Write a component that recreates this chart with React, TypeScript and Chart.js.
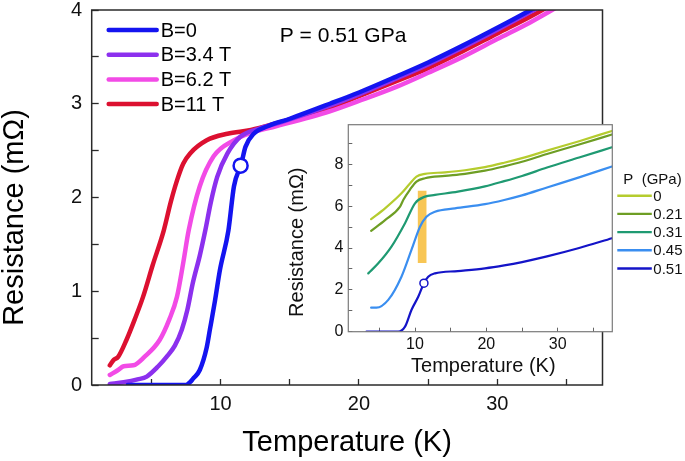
import React, { useEffect, useRef } from 'react';
import { Chart, registerables } from 'chart.js';

Chart.register(...registerables);

const FONT = '"Liberation Sans", Arial, Helvetica, sans-serif';

// ---------------- Main chart data (P = 0.51 GPa) ----------------
const mainLabels = ['B=0', 'B=3.4 T', 'B=6.2 T', 'B=11 T'];
const mainColors = ['#1414F0', '#8C30EE', '#F24BE6', '#DC1030'];

const tB0 = [3.3, 5, 7.5, 7.8, 8.03, 8.5, 9.0, 9.23, 9.6, 9.96, 10.57, 10.97, 11.5, 11.8, 12.4, 13.4, 15, 17.9, 20, 22.7, 25, 27.5, 30, 32.4, 35, 37];
const rB0 = [0, 0, 0, 0.03, 0.07, 0.16, 0.4, 0.59, 0.9, 1.23, 1.65, 2.12, 2.36, 2.54, 2.68, 2.76, 2.84, 3.0, 3.12, 3.29, 3.44, 3.62, 3.81, 4.0, 4.22, 4.4];

const tB34 = [2.0, 3.0, 4.0, 4.67, 5.5, 6.1, 6.7, 7.2, 7.6, 8.0, 8.5, 8.9, 9.3, 9.76, 10.5, 11.45, 12.9, 14.5, 17.9, 20, 22.7, 25, 27.5, 30, 32.4, 35, 37];
const rB34 = [0.01, 0.03, 0.06, 0.09, 0.2, 0.3, 0.42, 0.59, 0.8, 1.09, 1.38, 1.65, 1.95, 2.22, 2.47, 2.65, 2.74, 2.81, 2.98, 3.1, 3.27, 3.42, 3.6, 3.79, 3.98, 4.2, 4.38];

const tB62 = [2.0, 2.6, 3.0, 3.7, 4.5, 5.6, 6.3, 6.85, 7.3, 7.7, 8.5, 9.5, 10.95, 12.4, 14, 17.9, 20, 22.7, 25, 27.5, 30, 32.4, 35, 37];
const rB62 = [0.107, 0.16, 0.2, 0.21, 0.3, 0.48, 0.7, 0.94, 1.3, 1.65, 2.12, 2.44, 2.61, 2.7, 2.76, 2.92, 3.03, 3.18, 3.33, 3.5, 3.69, 3.87, 4.09, 4.27];

const tB11 = [2.0, 2.3, 2.6, 3.2, 3.8, 4.4, 5.1, 5.9, 6.4, 6.85, 7.3, 7.8, 9.0, 10.5, 12.2, 14, 17.9, 20, 22.7, 25, 27.5, 30, 32.4, 35, 37];
const rB11 = [0.21, 0.27, 0.3, 0.48, 0.7, 0.94, 1.28, 1.65, 1.95, 2.18, 2.36, 2.47, 2.61, 2.68, 2.72, 2.79, 2.96, 3.08, 3.24, 3.38, 3.56, 3.75, 3.93, 4.15, 4.33];

const mainMarkerT = [11.45];
const mainMarkerR = [2.34];

const mainXLabelled = [10, 20, 30];
const mainYLabelled = [0, 1, 2, 3, 4];
const mainTitle = 'P = 0.51 GPa';

// ---------------- Inset data (B = 0, various P) ----------------
const insetLabels = ['0', '0.21', '0.31', '0.45', '0.51'];
const insetColors = ['#B5CC2E', '#6E9E24', '#1F9A72', '#3A8EF0', '#1414C8'];

const tP0 = [3.85, 5.8, 8.1, 9.2, 10.2, 11.4, 14.2, 17, 19.8, 22.5, 25, 28.5, 33, 37.6];
const rP0 = [5.38, 5.9, 6.62, 7.05, 7.42, 7.55, 7.62, 7.72, 7.87, 8.08, 8.3, 8.66, 9.11, 9.6];

const tP021 = [3.85, 5.8, 7.9, 8.35, 9.3, 10.2, 11.4, 14.2, 17, 19.8, 22.5, 25, 28.5, 33, 37.6];
const rP021 = [4.82, 5.34, 5.98, 6.3, 6.8, 7.18, 7.34, 7.45, 7.55, 7.7, 7.91, 8.13, 8.5, 8.95, 9.43];

const tP031 = [3.45, 4.85, 6.7, 8.6, 10.0, 11.4, 12.8, 16, 19.8, 22.5, 25, 28.5, 33, 37.6];
const rP031 = [2.79, 3.27, 4.07, 5.19, 6.14, 6.46, 6.54, 6.7, 6.95, 7.2, 7.45, 7.85, 8.33, 8.82];

const tP045 = [3.85, 4.6, 6.25, 8.1, 9.5, 10.7, 11.6, 12.8, 15.6, 19.8, 22.5, 25, 28.5, 33, 37.6];
const rP045 = [1.15, 1.15, 1.52, 2.63, 3.91, 5.02, 5.5, 5.74, 5.9, 6.1, 6.3, 6.52, 6.9, 7.38, 7.9];

const tP051 = [3.2, 7.65, 8.6, 9.5, 10.45, 11.25, 11.85, 12.8, 16, 19.8, 22.5, 25, 28.5, 33, 37.6];
const rP051 = [0, 0, 0.24, 1.04, 1.67, 2.32, 2.63, 2.79, 2.9, 3.03, 3.17, 3.33, 3.6, 4.0, 4.47];

const insetMarkerT = [11.25];
const insetMarkerR = [2.32];

const bandT = [11.0];
const bandR = [[3.3, 6.73]];

const insetXLabelled = [10, 20, 30];
const insetYLabelled = [0, 2, 4, 6, 8];
const insetLegendTitle = 'P  (GPa)';

// ---------------- helpers ----------------
const pts = (t: number[], r: number[]) => t.map((x, i) => ({ x, y: r[i] }));

function lineDs(label: string, t: number[], r: number[], color: string, width: number) {
  return {
    type: 'line' as const,
    label,
    data: pts(t, r),
    borderColor: color,
    backgroundColor: color,
    borderWidth: width,
    pointRadius: 0,
    pointHoverRadius: 0,
    cubicInterpolationMode: 'monotone' as const,
    borderCapStyle: 'round' as const,
    borderJoinStyle: 'round' as const,
    fill: false,
    order: 1,
  };
}

function markerDs(t: number[], r: number[], color: string, radius: number, bw: number) {
  return {
    type: 'line' as const,
    label: '__marker',
    data: pts(t, r),
    showLine: false,
    pointRadius: radius,
    pointBackgroundColor: '#ffffff',
    pointBorderColor: color,
    pointBorderWidth: bw,
    borderColor: color,
    order: -1,
  };
}

const fixX = (h: number) => (s: any) => {
  s.height = h;
  s.paddingLeft = 0;
  s.paddingRight = 0;
  s.paddingTop = 0;
  s.paddingBottom = 0;
};
const fixY = (w: number) => (s: any) => {
  s.width = w;
  s.paddingLeft = 0;
  s.paddingRight = 0;
  s.paddingTop = 0;
  s.paddingBottom = 0;
};

function mainConfig(): any {
  const series = [
    [tB0, rB0],
    [tB34, rB34],
    [tB62, rB62],
    [tB11, rB11],
  ];
  const datasets: any[] = series.map((s, i) => lineDs(mainLabels[i], s[0], s[1], mainColors[i], 4.5));
  datasets.push(markerDs(mainMarkerT, mainMarkerR, mainColors[0], 7, 2.5));

  const decor = {
    id: 'mainDecor',
    beforeDraw(chart: any) {
      const ctx = chart.ctx;
      ctx.save();
      ctx.fillStyle = '#ffffff';
      ctx.fillRect(0, 0, chart.width, chart.height);
      ctx.restore();
    },
    afterDraw(chart: any) {
      const ctx = chart.ctx;
      const a = chart.chartArea;
      ctx.save();
      ctx.strokeStyle = '#2a2a2a';
      ctx.lineWidth = 1.5;
      ctx.strokeRect(a.left, a.top, a.right - a.left, a.bottom - a.top);

      ctx.fillStyle = '#000';
      ctx.textAlign = 'center';
      ctx.textBaseline = 'middle';
      ctx.font = `29px ${FONT}`;
      ctx.fillText('Temperature (K)', (a.left + a.right) / 2, a.bottom + 58);
      ctx.save();
      ctx.translate(a.left - 77, (a.top + a.bottom) / 2 + 20);
      ctx.rotate(-Math.PI / 2);
      ctx.fillText('Resistance (mΩ)', 0, 0);
      ctx.restore();

      ctx.textAlign = 'left';
      ctx.font = `21px ${FONT}`;
      ctx.fillText(mainTitle, a.left + 188, a.top + 26);

      // legend
      ctx.font = `20px ${FONT}`;
      ctx.lineCap = 'round';
      const x0 = a.left + 17;
      const x1 = a.left + 65;
      mainLabels.forEach((lab, i) => {
        const y = a.top + 20 + i * 24.7;
        ctx.strokeStyle = mainColors[i];
        ctx.lineWidth = 4.5;
        ctx.beginPath();
        ctx.moveTo(x0, y);
        ctx.lineTo(x1, y);
        ctx.stroke();
        ctx.fillStyle = '#000';
        ctx.fillText(lab, x1 + 4, y + 1);
      });
      ctx.restore();
    },
  };

  return {
    type: 'line',
    data: { datasets },
    plugins: [decor],
    options: {
      animation: false,
      responsive: false,
      devicePixelRatio: 1,
      events: [],
      layout: { autoPadding: false, padding: { left: 0, top: 10, right: 82.5, bottom: 0 } },
      plugins: { legend: { display: false }, tooltip: { enabled: false }, title: { display: false } },
      scales: {
        x: {
          type: 'linear',
          min: 0.69,
          max: 37.6,
          afterFit: fixX(76),
          border: { display: false },
          grid: { drawOnChartArea: false, drawTicks: true, tickLength: -6, tickColor: '#2a2a2a', tickWidth: 1.3 },
          ticks: {
            stepSize: 5,
            includeBounds: false,
            autoSkip: false,
            maxRotation: 0,
            padding: 13,
            color: '#111',
            font: { family: FONT, size: 20 },
            callback: (v: number) => (mainXLabelled.includes(v) ? String(v) : ''),
          },
        },
        y: {
          type: 'linear',
          min: 0,
          max: 4,
          afterFit: fixY(91.7),
          border: { display: false },
          grid: { drawOnChartArea: false, drawTicks: true, tickLength: -7, tickColor: '#2a2a2a', tickWidth: 1.3 },
          ticks: {
            stepSize: 0.5,
            autoSkip: false,
            padding: 16.5,
            color: '#111',
            font: { family: FONT, size: 20 },
            callback: (v: number) => (mainYLabelled.includes(v) ? String(v) : ''),
          },
        },
      },
    },
  };
}

function insetConfig(): any {
  const series = [
    [tP0, rP0],
    [tP021, rP021],
    [tP031, rP031],
    [tP045, rP045],
    [tP051, rP051],
  ];
  const datasets: any[] = series.map((s, i) => lineDs(insetLabels[i], s[0], s[1], insetColors[i], 2.2));
  datasets.push(markerDs(insetMarkerT, insetMarkerR, insetColors[4], 4, 1.5));
  datasets.push({
    type: 'bar',
    label: '__band',
    data: bandT.map((x, i) => ({ x, y: bandR[i] })),
    backgroundColor: 'rgba(247, 192, 66, 0.9)',
    borderWidth: 0,
    barThickness: 8,
    grouped: false,
    order: 10,
  });

  const decor = {
    id: 'insetDecor',
    beforeDraw(chart: any) {
      const ctx = chart.ctx;
      const a = chart.chartArea;
      ctx.save();
      ctx.fillStyle = '#ffffff';
      ctx.fillRect(a.left, a.top, a.right - a.left, a.bottom - a.top);
      ctx.restore();
    },
    afterDraw(chart: any) {
      const ctx = chart.ctx;
      const a = chart.chartArea;
      ctx.save();
      ctx.strokeStyle = '#7a7a7a';
      ctx.lineWidth = 1.2;
      ctx.strokeRect(a.left, a.top, a.right - a.left, a.bottom - a.top);

      ctx.fillStyle = '#111';
      ctx.textAlign = 'center';
      ctx.textBaseline = 'middle';
      ctx.font = `20px ${FONT}`;
      ctx.fillText('Temperature (K)', (a.left + a.right) / 2 + 3, a.bottom + 35);
      ctx.save();
      ctx.translate(a.left - 51, (a.top + a.bottom) / 2 + 14);
      ctx.rotate(-Math.PI / 2);
      ctx.fillText('Resistance (mΩ)', 0, 0);
      ctx.restore();

      // legend
      ctx.textAlign = 'left';
      ctx.font = `15px ${FONT}`;
      ctx.fillText(insetLegendTitle, a.right + 11, a.top + 55.5);
      const x0 = a.right + 5;
      const x1 = a.right + 39.5;
      insetLabels.forEach((lab, i) => {
        const y = a.top + 71 + i * 18.2;
        ctx.strokeStyle = insetColors[i];
        ctx.lineWidth = 2.4;
        ctx.beginPath();
        ctx.moveTo(x0, y);
        ctx.lineTo(x1, y);
        ctx.stroke();
        ctx.fillStyle = '#111';
        ctx.fillText(lab, x1 + 1.5, y + 1);
      });
      ctx.restore();
    },
  };

  return {
    type: 'line',
    data: { datasets },
    plugins: [decor],
    options: {
      animation: false,
      responsive: false,
      devicePixelRatio: 1,
      events: [],
      layout: { autoPadding: false, padding: { left: 0, top: 9.7, right: 72.7, bottom: 0 } },
      plugins: { legend: { display: false }, tooltip: { enabled: false }, title: { display: false } },
      scales: {
        x: {
          type: 'linear',
          min: 0.65,
          max: 37.65,
          offset: false,
          afterFit: fixX(63.3),
          border: { display: false },
          grid: { drawOnChartArea: false, drawTicks: true, tickLength: -4, tickColor: '#666', tickWidth: 1, offset: false },
          ticks: {
            stepSize: 5,
            includeBounds: false,
            autoSkip: false,
            maxRotation: 0,
            padding: 7.7,
            color: '#111',
            font: { family: FONT, size: 16 },
            callback: (v: number) => (insetXLabelled.includes(v) ? String(v) : ''),
          },
        },
        y: {
          type: 'linear',
          min: 0,
          max: 9.9,
          afterFit: fixY(78.3),
          border: { display: false },
          grid: { drawOnChartArea: false, drawTicks: true, tickLength: -4, tickColor: '#666', tickWidth: 1 },
          ticks: {
            stepSize: 1,
            includeBounds: false,
            autoSkip: false,
            padding: 9,
            color: '#111',
            font: { family: FONT, size: 16 },
            callback: (v: number) => (insetYLabelled.includes(v) ? String(v) : ''),
          },
        },
      },
    },
  };
}

export default function App() {
  const mainRef = useRef<HTMLCanvasElement>(null);
  const insetRef = useRef<HTMLCanvasElement>(null);

  useEffect(() => {
    const c1 = new Chart(mainRef.current as HTMLCanvasElement, mainConfig());
    const c2 = new Chart(insetRef.current as HTMLCanvasElement, insetConfig());
    return () => {
      c1.destroy();
      c2.destroy();
    };
  }, []);

  return (
    <div style={{ position: 'fixed', left: 0, top: 0, width: 685, height: 461, background: '#fff', overflow: 'hidden' }}>
      <canvas ref={mainRef} width={685} height={461} style={{ position: 'absolute', left: 0, top: 0 }} />
      <canvas ref={insetRef} width={415} height={280} style={{ position: 'absolute', left: 270, top: 115 }} />
    </div>
  );
}
